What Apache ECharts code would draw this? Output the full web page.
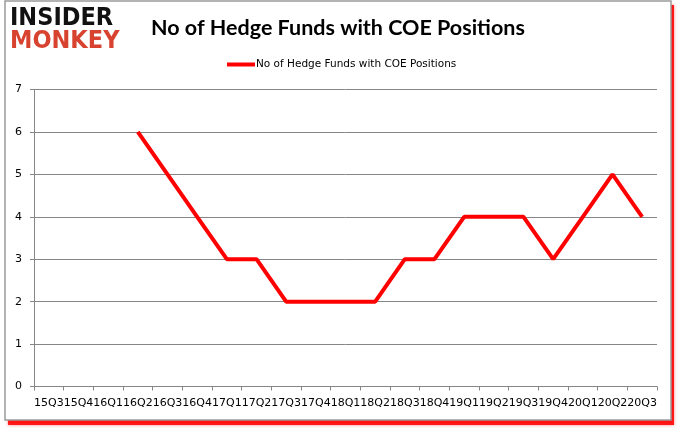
<!DOCTYPE html>
<html><head><meta charset="utf-8">
<script src="https://cdn.jsdelivr.net/npm/echarts@6/dist/echarts.min.js"></script>
<style>html,body{margin:0;padding:0;background:#fff}#c{width:678px;height:431px}</style>
</head><body><div id="c"></div>
<script>
const categories = ['15Q3','15Q4','16Q1','16Q2','16Q3','16Q4','17Q1','17Q2','17Q3','17Q4','18Q1','18Q2','18Q3','18Q4','19Q1','19Q2','19Q3','19Q4','20Q1','20Q2','20Q3'];
const values = [null,null,null,6,5,4,3,3,2,2,2,2,3,3,4,4,4,3,4,5,4];
const seriesName = 'No of Hedge Funds with COE Positions';
const titleText = 'No of Hedge Funds with COE Positions';

const chart = echarts.init(document.getElementById('c'));
chart.setOption({
  animation: false,
  backgroundColor: '#fff',
  graphic: [
    {type:'rect', shape:{x:8,y:5,width:666,height:420}, style:{fill:'rgba(255,0,0,0.85)', shadowColor:'rgba(255,0,0,0.6)', shadowBlur:3}, z:-20},
    {type:'rect', shape:{x:5,y:1,width:666,height:419}, style:{fill:'#fff', stroke:'#9a9a9a', lineWidth:1.5}, z:-10},
    {type:'text', left:10, top:6, style:{text:'INSIDER', font:'900 25px "DejaVu Sans Condensed"', fill:'#111'}},
    {type:'text', left:10, top:29, style:{text:'MONKEY', font:'900 25px "DejaVu Sans Condensed"', fill:'#d8432f'}}
  ],
  title: {text:titleText, left:146, top:12, textStyle:{fontFamily:'Lato', fontWeight:'bold', fontSize:21.5, color:'#000'}},
  legend: {top:54, left:222, itemWidth:28, itemHeight:4, itemGap:2, icon:'rect',
    textStyle:{fontFamily:'DejaVu Sans', fontSize:10.5, color:'#000', padding:[0,0,0,-4]},
    data:[seriesName]},
  grid: {left:34, right:21, top:89.5, bottom:44.5, containLabel:false},
  xAxis: {type:'category', data:categories, boundaryGap:true,
    axisLine:{lineStyle:{color:'#868686', width:1}},
    axisTick:{show:true, length:4, alignWithLabel:false, lineStyle:{color:'#868686'}},
    axisLabel:{color:'#000', fontFamily:'DejaVu Sans', fontSize:11, margin:11, interval:0}},
  yAxis: {type:'value', min:0, max:7, interval:1,
    axisLine:{show:true, lineStyle:{color:'#868686'}},
    axisTick:{show:true, length:4, lineStyle:{color:'#868686'}},
    splitLine:{lineStyle:{color:'#868686', width:1}},
    axisLabel:{color:'#000', fontFamily:'DejaVu Sans', fontSize:11, margin:12}},
  series: [{name:seriesName, type:'line', data:values, showSymbol:false, symbol:'none',
    lineStyle:{color:'#ff0000', width:4}, itemStyle:{color:'#ff0000'}}]
});
</script></body></html>
